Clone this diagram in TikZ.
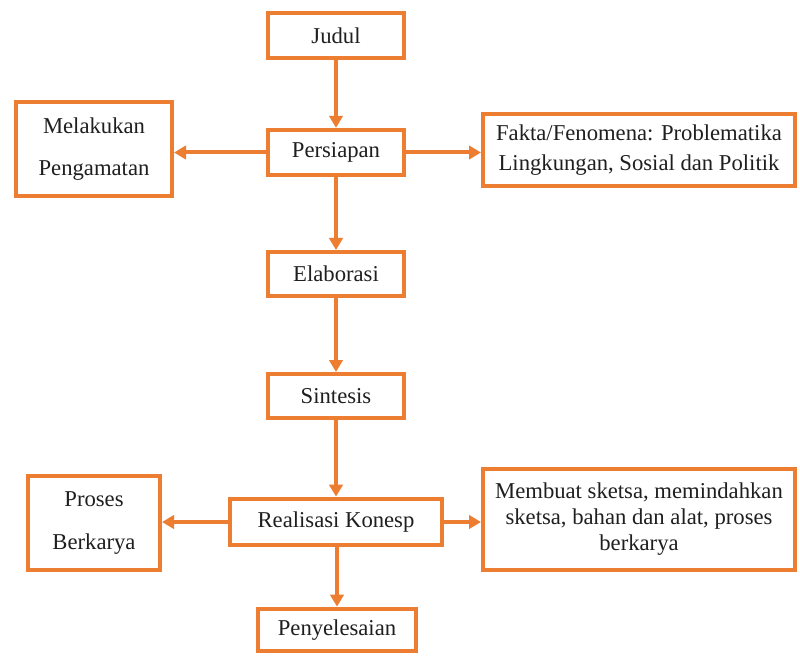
\documentclass[tikz,border=0pt]{standalone}
\usepackage{fontspec}
\setmainfont{Liberation Serif}
\usetikzlibrary{arrows.meta}
\definecolor{boxorange}{HTML}{ED7D31}
\tikzset{
  box/.style={draw=boxorange, line width=3pt, fill=white, inner sep=0pt, align=center,
    font=\fontsize{17}{22}\selectfont, text=black!88},
  link/.style={draw=boxorange, line width=3pt, -{Triangle[width=10pt,length=9pt]}},
}
\begin{document}
\begin{tikzpicture}[x=0.75pt,y=-0.75pt]
\useasboundingbox (0,0) rectangle (800,656);
\node[box, minimum width=102pt, minimum height=34pt] (judul) at (336,35.5) {Judul};
\node[box, minimum width=102pt, minimum height=34pt] (persiapan) at (336,152.5) {Persiapan};
\node[box, minimum width=117pt, minimum height=71pt, font=\fontsize{17}{31}\selectfont] (amat) at (94,149) {Melakukan\\Pengamatan};
\node[box, minimum width=234pt, minimum height=54pt, font=\fontsize{17}{22.5}\selectfont] (fakta) at (639,150) {Fakta/Fenomena: Problematika\\Lingkungan, Sosial dan Politik};
\node[box, minimum width=102pt, minimum height=33pt] (elab) at (336,274) {Elaborasi};
\node[box, minimum width=102pt, minimum height=33pt] (sint) at (336,396) {Sintesis};
\node[box, minimum width=159pt, minimum height=35pt] (real) at (336,522) {Realisasi Konesp};
\node[box, minimum width=99pt, minimum height=71pt, font=\fontsize{17}{32}\selectfont] (proses) at (94,523) {Proses\\Berkarya};
\node[box, minimum width=234pt, minimum height=76pt, font=\fontsize{17}{19.5}\selectfont] (buat) at (639,519.5) {Membuat sketsa, memindahkan\\sketsa, bahan dan alat, proses\\berkarya};
\node[box, minimum width=119pt, minimum height=32pt] (selesai) at (337,630) {Penyelesaian};

\draw[link] (judul) -- (persiapan);
\draw[link] (persiapan.west) -- (amat.east |- persiapan.west);
\draw[link] (persiapan.east) -- (fakta.west |- persiapan.east);
\draw[link] (persiapan) -- (elab);
\draw[link] (elab) -- (sint);
\draw[link] (sint) -- (real);
\draw[link] (real.west) -- (proses.east |- real.west);
\draw[link] (real.east) -- (buat.west |- real.east);
\draw[link] (real.south -| selesai.north) -- (selesai.north);
\end{tikzpicture}
\end{document}
